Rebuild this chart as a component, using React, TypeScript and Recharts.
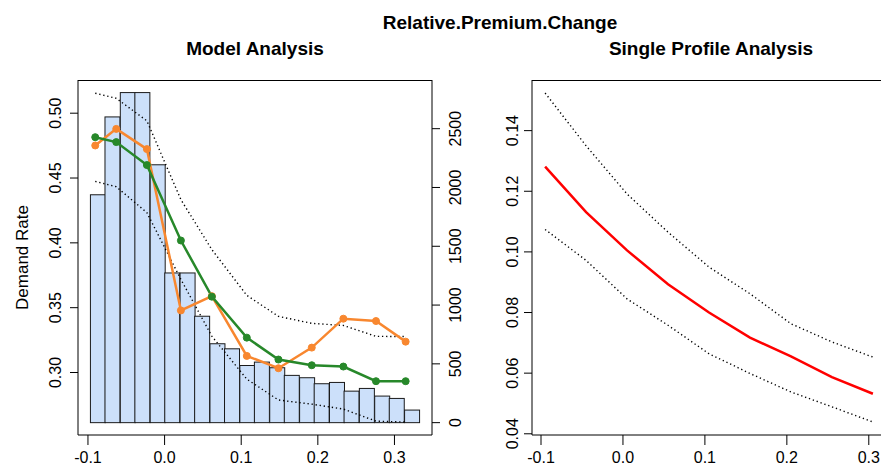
import { ComposedChart, Bar, Line, XAxis, YAxis } from 'recharts'

// histogram of premium change (right axis, counts)
const binMids = [-0.087, -0.068, -0.048, -0.029, -0.009, 0.010, 0.030, 0.049, 0.069, 0.088, 0.108, 0.127, 0.147, 0.166, 0.186, 0.205, 0.225, 0.244, 0.264, 0.284, 0.303, 0.323]
const binCounts = [1938, 2600, 2807, 2807, 2193, 1273, 1273, 905, 671, 628, 486, 515, 467, 402, 382, 331, 342, 268, 291, 226, 206, 107]

// model analysis lines (left axis, demand rate)
const modelX = [-0.0905, -0.0631, -0.0231, 0.0213, 0.0617, 0.1073, 0.1486, 0.1921, 0.2333, 0.2759, 0.3146]
const observedRate = [0.4751, 0.4879, 0.4723, 0.3479, 0.3589, 0.3128, 0.3033, 0.3192, 0.3415, 0.3397, 0.3238]
const fittedRate = [0.4815, 0.4777, 0.4600, 0.4018, 0.3585, 0.3269, 0.3100, 0.3056, 0.3046, 0.2933, 0.2933]
const modelUpper = [0.5154, 0.5115, 0.4941, 0.4333, 0.3948, 0.3595, 0.3433, 0.3379, 0.3363, 0.3279, 0.3277]
const modelLower = [0.4474, 0.4433, 0.4233, 0.3718, 0.3280, 0.2949, 0.2788, 0.2756, 0.2718, 0.2625, 0.2618]

// single profile analysis
const profileX = [-0.095, -0.045, 0.005, 0.055, 0.105, 0.155, 0.205, 0.255, 0.305]
const profileRate = [0.1281, 0.1131, 0.1005, 0.0893, 0.0800, 0.0717, 0.0655, 0.0587, 0.0532]
const profileUpper = [0.1524, 0.1350, 0.1191, 0.1065, 0.0950, 0.0862, 0.0763, 0.0703, 0.0653]
const profileLower = [0.1074, 0.0972, 0.0845, 0.0758, 0.0664, 0.0599, 0.0538, 0.0489, 0.0439]

const xTicks = [-0.1, 0, 0.1, 0.2, 0.3]
const rateTicks = [0.30, 0.35, 0.40, 0.45, 0.50]
const countTicks = [0, 500, 1000, 1500, 2000, 2500]
const profileTicks = [0.04, 0.06, 0.08, 0.10, 0.12, 0.14]

const leftXDomain = [-0.113, 0.349]
const rateDomain = [0.2518, 0.5256]
const countDomain = [-105, 2914]
const rightXDomain = [-0.111, 0.321]
const profileDomain = [0.0396, 0.1567]

const FONT = '"Liberation Sans", Arial, sans-serif'
const ORANGE = '#f8872f'
const GREEN = '#27882a'
const BIN_PX = 15 // histogram bin width in pixels

const histData = binMids.map((x, i) => ({ x, count: binCounts[i] }))
const pts = (xs: number[], ys: number[]) => xs.map((x, i) => ({ x, y: ys[i] }))
const profileData = profileX.map((x, i) => ({
  x, rate: profileRate[i], upper: profileUpper[i], lower: profileLower[i],
}))

// top edge of each plot box, from the domain corners
const leftTopEdge = pts(leftXDomain, [rateDomain[1], rateDomain[1]])
const rightTopEdge = pts(rightXDomain, [profileDomain[1], profileDomain[1]])

// rotated y tick labels, R style (read bottom to top)
function vTick(fmt: (v: number) => string) {
  return (props: any) => {
    const { x, y, payload } = props
    return (
      <text x={x} y={y} transform={`rotate(-90 ${x} ${y})`} textAnchor="middle"
        fontSize={16} fontFamily={FONT} fill="#000">
        {fmt(payload.value)}
      </text>
    )
  }
}

// histogram cell: full bin width centred on the bin midpoint
const HistBar = (props: any) => {
  const { x, y, width, height } = props
  if (!height) return null
  const cx = x + width / 2
  return <rect x={cx - BIN_PX / 2} y={y} width={BIN_PX} height={height} fill="#cce0fa" stroke="#1a1a1a" strokeWidth={1} />
}

const axisProps = {
  axisLine: { stroke: '#000' },
  tickLine: { stroke: '#000' },
  tickSize: 8,
  interval: 0 as const,
}

const xTickStyle = { fill: '#000', fontSize: 16, fontFamily: FONT }
const dotted = { stroke: '#000', strokeWidth: 1.4, strokeDasharray: '1.3 2.8' }

export default function App() {
  return (
    <div style={{ position: 'absolute', left: 0, top: 0, width: 881, height: 470, overflow: 'hidden', background: '#fff' }}>
      <div style={{ position: 'absolute', left: 0, top: 0 }}>
        <ComposedChart width={480} height={470} data={histData} margin={{ top: 80, right: 8, bottom: 0, left: 38 }}>
          <XAxis dataKey="x" type="number" domain={leftXDomain} allowDataOverflow ticks={xTicks}
            tickFormatter={(v: number) => v.toFixed(1)} height={35} {...axisProps} tickSize={10} tickMargin={7} tick={xTickStyle} />
          <YAxis yAxisId="rate" type="number" domain={rateDomain} allowDataOverflow ticks={rateTicks}
            width={40} {...axisProps} tickMargin={9} tick={vTick((v) => v.toFixed(2))} />
          <YAxis yAxisId="count" orientation="right" type="number" domain={countDomain} allowDataOverflow ticks={countTicks}
            width={40} {...axisProps} tickMargin={21} tick={vTick((v) => String(v))} />
          <Bar yAxisId="count" dataKey="count" shape={HistBar} isAnimationActive={false} />
          <Line yAxisId="rate" data={leftTopEdge} dataKey="y" stroke="#000" strokeWidth={2} dot={false} isAnimationActive={false} />
          <Line yAxisId="rate" data={pts(modelX, modelUpper)} dataKey="y" dot={false} {...dotted} isAnimationActive={false} />
          <Line yAxisId="rate" data={pts(modelX, modelLower)} dataKey="y" dot={false} {...dotted} isAnimationActive={false} />
          <Line yAxisId="rate" data={pts(modelX, observedRate)} dataKey="y" stroke={ORANGE} strokeWidth={2.5}
            dot={{ r: 3.5, fill: ORANGE, stroke: ORANGE, strokeWidth: 1 }} isAnimationActive={false} />
          <Line yAxisId="rate" data={pts(modelX, fittedRate)} dataKey="y" stroke={GREEN} strokeWidth={2.5}
            dot={{ r: 3.5, fill: GREEN, stroke: GREEN, strokeWidth: 1 }} isAnimationActive={false} />
        </ComposedChart>
      </div>

      <div style={{ position: 'absolute', left: 480, top: 0 }}>
        <ComposedChart width={420} height={470} data={profileData} margin={{ top: 80, right: 14, bottom: 0, left: 12 }}>
          <XAxis dataKey="x" type="number" domain={rightXDomain} allowDataOverflow ticks={xTicks}
            tickFormatter={(v: number) => v.toFixed(1)} height={35} {...axisProps} tickSize={10} tickMargin={7} tick={xTickStyle} />
          <YAxis type="number" domain={profileDomain} allowDataOverflow ticks={profileTicks}
            width={40} {...axisProps} tickMargin={6} tick={vTick((v) => v.toFixed(2))} />
          <Line data={rightTopEdge} dataKey="y" stroke="#000" strokeWidth={2} dot={false} isAnimationActive={false} />
          <Line dataKey="upper" dot={false} {...dotted} isAnimationActive={false} />
          <Line dataKey="lower" dot={false} {...dotted} isAnimationActive={false} />
          <Line dataKey="rate" stroke="#ff0000" strokeWidth={2.5} dot={false} isAnimationActive={false} />
        </ComposedChart>
      </div>

      <svg width={881} height={470} style={{ position: 'absolute', left: 0, top: 0, pointerEvents: 'none' }}>
        <g fontFamily={FONT} fill="#000">
          <text x={500} y={28.5} textAnchor="middle" fontSize={19} fontWeight="bold">Relative.Premium.Change</text>
          <text x={255} y={55} textAnchor="middle" fontSize={19} fontWeight="bold">Model Analysis</text>
          <text x={711} y={55} textAnchor="middle" fontSize={19} fontWeight="bold">Single Profile Analysis</text>
          <text x={28} y={257.5} transform="rotate(-90 28 257.5)" textAnchor="middle" fontSize={17}>Demand Rate</text>
        </g>
      </svg>
    </div>
  )
}
